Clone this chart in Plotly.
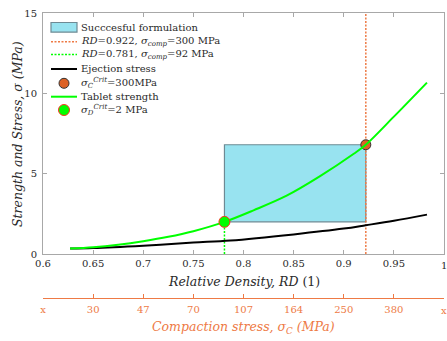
import plotly.graph_objects as go

# ---------------- data ----------------
rd_strength = [0.627, 0.65, 0.675, 0.70, 0.725, 0.75, 0.781, 0.81, 0.843, 0.876, 0.91, 0.922, 0.95, 0.983]
tablet_strength = [0.34, 0.42, 0.58, 0.80, 1.07, 1.42, 2.0, 2.72, 3.63, 4.83, 6.24, 6.8, 8.55, 10.67]

rd_eject = [0.627, 0.65, 0.70, 0.75, 0.787, 0.85, 0.90, 0.922, 0.95, 0.983]
ejection_stress = [0.34, 0.37, 0.52, 0.71, 0.84, 1.22, 1.58, 1.79, 2.07, 2.45]

rd_low, rd_high = 0.781, 0.922
strength_low, strength_high = 2.0, 6.8
y_range = [0, 15]

x_ticks = [0.6, 0.65, 0.7, 0.75, 0.8, 0.85, 0.9, 0.95, 1.0]
x_ticktext = ["0.6", "0.65", "0.7", "0.75", "0.8", "0.85", "0.9", "0.95", "1"]
comp_ticktext = ["x", "30", "47", "70", "107", "164", "250", "380", "x"]
y_ticks = [0, 5, 10, 15]

# ---------------- style ----------------
FONT = "DejaVu Serif"
TICK_SIZE = 10
LEG_SIZE = 10
TITLE_SIZE = 12.5
ORANGE = "#EE7A45"
ORANGE_MK = "#DD6226"
GREEN = "#00FF00"
BLUE_FILL = "#98E3F0"
BOX_EDGE = "#6E8A94"
AX = "#A8A8A8"
TXT = "#2a2a2a"

W, H = 447, 341
ML, MR, MT, MB = 43, 3, 13, 43
PW, PH = W - ML - MR, H - MT - MB
main_bottom_px = 254


def px(xp, yp):
    return (xp - ML) / PW, (H - MB - yp) / PH


fig = go.Figure()

fig.add_trace(go.Scatter(
    x=[rd_low, rd_high, rd_high, rd_low, rd_low],
    y=[strength_low, strength_low, strength_high, strength_high, strength_low],
    fill="toself", fillcolor=BLUE_FILL, mode="lines",
    line=dict(color=BOX_EDGE, width=1.2), name="Succcesful formulation", showlegend=False))
fig.add_trace(go.Scatter(x=[rd_high, rd_high], y=y_range, mode="lines",
                         line=dict(color=ORANGE, width=1.5, dash="2px,1.5px"), showlegend=False))
fig.add_trace(go.Scatter(x=[rd_low, rd_low], y=[0, strength_low], mode="lines",
                         line=dict(color=GREEN, width=1.5, dash="2px,1.5px"), showlegend=False))
fig.add_trace(go.Scatter(x=rd_eject, y=ejection_stress, mode="lines",
                         line=dict(color="black", width=2, shape="spline"), showlegend=False))
fig.add_trace(go.Scatter(x=[rd_high], y=[strength_high], mode="markers",
                         marker=dict(size=10, color=ORANGE_MK, line=dict(color="#333333", width=1)),
                         showlegend=False))
fig.add_trace(go.Scatter(x=rd_strength, y=tablet_strength, mode="lines",
                         line=dict(color=GREEN, width=2, shape="spline"), showlegend=False))
fig.add_trace(go.Scatter(x=[rd_low], y=[strength_low], mode="markers",
                         marker=dict(size=11, color=GREEN, line=dict(color="#FF3322", width=1)),
                         showlegend=False))
fig.add_trace(go.Scatter(x=[x_ticks[0], x_ticks[-1]], y=[None, None], xaxis="x2", yaxis="y",
                         mode="lines", showlegend=False, hoverinfo="skip"))

shapes = []
annotations = []
lx0, lx1 = 51, 77
tx = 79
rows = [
    ("patch", 27.3, "Succcesful formulation"),
    ("dot_o", 41.7, "<i>RD</i>=0.922, <i>σ</i><sub><i>comp</i></sub>=300 MPa"),
    ("dot_g", 54.5, "<i>RD</i>=0.781, <i>σ</i><sub><i>comp</i></sub>=92 MPa"),
    ("line_k", 69, "Ejection stress"),
    ("mk_o", 83.3, "<i>σ</i><sub><i>C</i></sub><sup><i>Crit</i></sup>=300MPa"),
    ("line_g", 96.7, "Tablet strength"),
    ("mk_g", 110, "<i>σ</i><sub><i>D</i></sub><sup><i>Crit</i></sup>=2 MPa"),
]
for kind, yc, label in rows:
    if kind == "patch":
        a = px(lx0, yc - 4.8); b = px(lx1, yc + 4.8)
        shapes.append(dict(type="rect", xref="paper", yref="paper", x0=a[0], x1=b[0], y0=b[1], y1=a[1],
                           fillcolor=BLUE_FILL, line=dict(color=BOX_EDGE, width=1.2)))
    elif kind.startswith("dot") or kind.startswith("line"):
        col = {"dot_o": ORANGE, "dot_g": GREEN, "line_k": "black", "line_g": GREEN}[kind]
        dash = "2px,1.5px" if kind.startswith("dot") else "solid"
        a = px(lx0, yc); b = px(lx1, yc)
        shapes.append(dict(type="line", xref="paper", yref="paper", x0=a[0], x1=b[0], y0=a[1], y1=b[1],
                           line=dict(color=col, width=2 if kind.startswith("line") else 1.5, dash=dash)))
    else:
        fill = ORANGE_MK if kind == "mk_o" else GREEN
        edge = "#333333" if kind == "mk_o" else "#FF3322"
        r = 5 if kind == "mk_o" else 5.5
        a = px(64 - r, yc - r); b = px(64 + r, yc + r)
        shapes.append(dict(type="circle", xref="paper", yref="paper", x0=a[0], x1=b[0], y0=b[1], y1=a[1],
                           fillcolor=fill, line=dict(color=edge, width=1)))
    p = px(tx, yc)
    annotations.append(dict(text=label, xref="paper", yref="paper", x=p[0], y=p[1],
                            xanchor="left", yanchor="middle", showarrow=False,
                            font=dict(family=FONT, size=LEG_SIZE, color=TXT)))

# axis titles
p = px(17, 134)
annotations.append(dict(text="<i>Strength and Stress, σ (MPa)</i>", xref="paper", yref="paper",
                        x=p[0], y=p[1], textangle=-90, showarrow=False, xanchor="center", yanchor="middle",
                        font=dict(family=FONT, size=TITLE_SIZE, color=TXT)))
p = px(243.5, 281.5)
annotations.append(dict(text="<i>Relative Density, RD</i> (1)", xref="paper", yref="paper",
                        x=p[0], y=p[1], showarrow=False, xanchor="center", yanchor="middle",
                        font=dict(family=FONT, size=TITLE_SIZE, color=TXT)))
p = px(243.5, 327.5)
annotations.append(dict(text="<i>Compaction stress, σ<sub>C</sub> (MPa)</i>", xref="paper", yref="paper",
                        x=p[0], y=p[1], showarrow=False, xanchor="center", yanchor="middle",
                        font=dict(family=FONT, size=TITLE_SIZE, color=ORANGE)))

# end-of-axis tick labels (plotly hides labels that touch the page edge)
for txt, ycen, col in [(x_ticktext[-1], 265, TXT), (comp_ticktext[-1], 310, ORANGE)]:
    annotations.append(dict(text=txt, xref="x", yref="paper", x=x_ticks[-1], y=px(0, ycen)[1],
                            showarrow=False, xanchor="center", yanchor="middle",
                            font=dict(family=FONT, size=TICK_SIZE, color=col)))
x_ticktext_axis = x_ticktext[:-1] + [""]
comp_ticktext_axis = comp_ticktext[:-1] + [""]

ydom0 = (H - MB - main_bottom_px) / PH

fig.update_layout(
    width=W, height=H,
    margin=dict(l=ML, r=MR, t=MT, b=MB, pad=0),
    paper_bgcolor="white", plot_bgcolor="white",
    showlegend=False,
    font=dict(family=FONT),
    shapes=shapes, annotations=annotations,
    xaxis=dict(range=[0.6, 1.0], tickvals=x_ticks, ticktext=x_ticktext_axis,
               showline=True, linecolor=AX, linewidth=1, mirror="ticks",
               ticks="inside", ticklen=4, tickcolor=AX, showgrid=False, zeroline=False,
               tickfont=dict(family=FONT, size=TICK_SIZE, color=TXT), anchor="y"),
    xaxis2=dict(range=[0.6, 1.0], tickvals=x_ticks, ticktext=comp_ticktext_axis,
                overlaying="x", side="bottom", anchor="free", position=0,
                showline=True, linecolor=ORANGE, linewidth=1,
                ticks="inside", ticklen=4, tickcolor=ORANGE, showgrid=False, zeroline=False,
                ticklabelstandoff=2,
                tickfont=dict(family=FONT, size=TICK_SIZE, color=ORANGE)),
    yaxis=dict(range=y_range, tickvals=y_ticks, domain=[ydom0, 1],
               showline=True, linecolor=AX, linewidth=1, mirror="ticks",
               ticks="inside", ticklen=4, tickcolor=AX, showgrid=False, zeroline=False,
               tickfont=dict(family=FONT, size=TICK_SIZE, color=TXT), ticklabelstandoff=3),
)

fig.write_html("out.html")
